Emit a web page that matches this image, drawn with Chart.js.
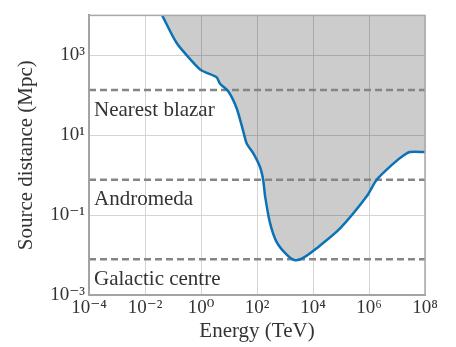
<!DOCTYPE html>
<html lang="en">
<head>
    <meta charset="UTF-8">
    <title>Source distance vs energy</title>
    <script src="https://cdn.jsdelivr.net/npm/chart.js"></script>
    <style>
        * { margin: 0; padding: 0; box-sizing: border-box; }
        body { background: white; }
        .chart-box { width: 456px; height: 347px; }
    </style>
</head>
<body>
    <div class="chart-box">
        <canvas id="horizon"></canvas>
    </div>

    <script>
        // Horizon curve: energy (TeV) and distance (Mpc)
        const energy = [0.041, 0.135, 0.53, 1.05, 3.6, 4.8, 9.4, 18.6, 32, 43, 74, 129, 166, 195, 288, 500,
                        1150, 2290, 4470, 13500, 91000, 8.3e5, 1.86e6, 7.4e6, 1.7e7, 2.9e7, 1e8];
        const distance = [1e4, 2040, 660, 417, 282, 195, 126, 48, 12.9, 6.2, 3.5, 1.58, 0.76, 0.295, 0.066, 0.0214,
                          0.0102, 0.0074, 0.0085, 0.0148, 0.0457, 0.295, 0.76, 1.95, 3.1, 3.8, 3.8];

        // Reference sources (dashed levels)
        const sourceNames = ['Nearest blazar', 'Andromeda', 'Galactic centre'];
        const sourceDistances = [135, 0.77, 0.0079];

        const xTicks = [1e-4, 1e-2, 1e0, 1e2, 1e4, 1e6, 1e8];
        const yTicks = [1e-3, 1e-1, 1e1, 1e3];
        const xRange = [1e-4, 1e8];
        const yRange = [1e-3, 1e4];

        const SERIF = '"Liberation Serif", "DejaVu Serif", serif';
        const SUP = { '-': '⁻', '0': '⁰', '1': '¹', '2': '²', '3': '³', '4': '⁴', '5': '⁵', '6': '⁶', '7': '⁷', '8': '⁸', '9': '⁹' };
        const powerLabel = v => '10' + String(Math.round(Math.log10(v))).split('').map(c => SUP[c]).join('');

        const curve = {
            data: energy.map((e, i) => ({ x: e, y: distance[i] })),
            borderColor: '#0a72b5',
            borderWidth: 2.5,
            pointRadius: 0,
            tension: 0.25,
            fill: 'end',
            backgroundColor: 'rgba(0,0,0,0.2)'
        };

        const levels = sourceDistances.map(d => ({
            data: [{ x: xRange[0], y: d }, { x: xRange[1], y: d }],
            borderColor: '#858585',
            borderWidth: 2.5,
            borderDash: [7, 4],
            pointRadius: 0,
            fill: false
        }));

        // frame round the plot and the source names
        const overlay = {
            id: 'overlay',
            afterDatasetsDraw(chart) {
                const { ctx, chartArea: a, scales: { y } } = chart;
                ctx.save();
                ctx.strokeStyle = '#a8a8a8';
                ctx.lineWidth = 1.5;
                ctx.strokeRect(a.left, a.top, a.right - a.left, a.bottom - a.top);
                ctx.font = '21px ' + SERIF;
                ctx.fillStyle = '#333';
                ctx.textBaseline = 'alphabetic';
                sourceNames.forEach((name, i) => {
                    ctx.fillText(name, a.left + 5, y.getPixelForValue(sourceDistances[i]) + 25.5);
                });
                ctx.restore();
            }
        };

        new Chart(document.getElementById('horizon'), {
            type: 'line',
            data: { datasets: [curve, ...levels] },
            plugins: [overlay],
            options: {
                responsive: true,
                maintainAspectRatio: false,
                animation: false,
                layout: { padding: { top: 8, right: 31, left: 0, bottom: 0 } },
                plugins: {
                    legend: { display: false },
                    tooltip: { enabled: false },
                    filler: { drawTime: 'beforeDatasetsDraw' }
                },
                scales: {
                    x: {
                        type: 'logarithmic',
                        min: xRange[0],
                        max: xRange[1],
                        afterBuildTicks: s => { s.ticks = xTicks.map(v => ({ value: v })); },
                        afterFit: s => { s.height = 52; },
                        grid: { color: '#d4d4d4', drawTicks: false },
                        border: { color: '#999', width: 2 },
                        ticks: {
                            autoSkip: false,
                            maxRotation: 0,
                            padding: 2,
                            color: '#333',
                            font: { family: SERIF, size: 19 },
                            callback: v => powerLabel(v)
                        },
                        title: {
                            display: true,
                            text: 'Energy (TeV)',
                            color: '#333',
                            font: { family: SERIF, size: 21 },
                            padding: { top: 0, bottom: 3 }
                        }
                    },
                    y: {
                        type: 'logarithmic',
                        min: yRange[0],
                        max: yRange[1],
                        afterBuildTicks: s => { s.ticks = yTicks.map(v => ({ value: v })); },
                        afterFit: s => { s.width = 89; },
                        grid: { color: '#d4d4d4', drawTicks: false },
                        border: { color: '#999', width: 2 },
                        ticks: {
                            autoSkip: false,
                            padding: 4,
                            color: '#333',
                            font: { family: SERIF, size: 19 },
                            callback: v => powerLabel(v)
                        },
                        title: {
                            display: true,
                            text: 'Source distance (Mpc)',
                            color: '#333',
                            font: { family: SERIF, size: 21 },
                            padding: { top: 14, bottom: 0 }
                        }
                    }
                }
            }
        });
    </script>
</body>
</html>
